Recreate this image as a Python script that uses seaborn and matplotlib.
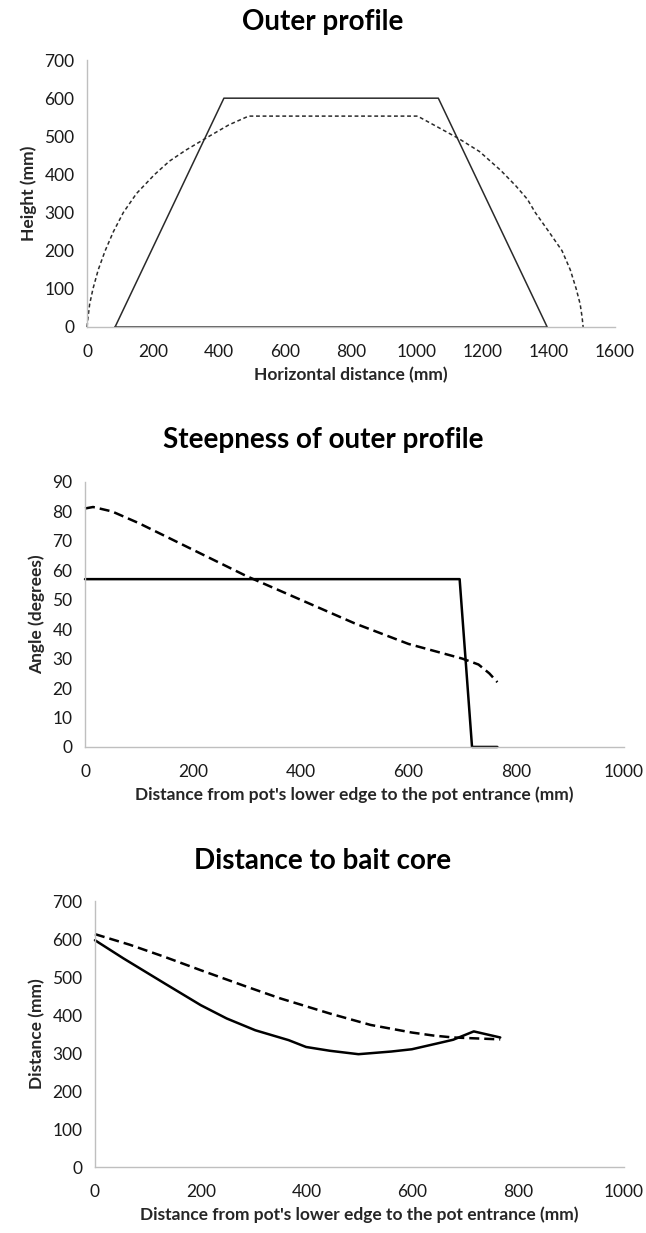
import seaborn as sns
import pandas as pd
import matplotlib.pyplot as plt

# panel 1: outer profile (x, height)
prof_solid_x = [85, 415, 1065, 1395, 85]
prof_solid_y = [0, 600, 600, 0, 0]
prof_dash_x = [0, 3, 8, 18, 34, 55, 80, 110, 150, 205, 250, 300, 370, 430, 490,
               1002, 1070, 1125, 1190, 1255, 1300, 1335, 1359, 1400, 1440, 1465, 1483, 1495, 1501, 1504]
prof_dash_y = [0, 25, 60, 100, 150, 200, 250, 300, 350, 400, 435, 464, 500, 530, 553,
               553, 521, 495, 460, 410, 370, 335, 300, 250, 200, 150, 100, 60, 25, 0]

# panel 2: steepness (distance, angle)
steep_solid_x = [0, 695, 718, 765]
steep_solid_y = [57, 57, 0, 0]
steep_dash_x = [0, 15, 50, 100, 200, 300, 400, 500, 600, 650, 700, 730, 750, 765]
steep_dash_y = [81, 81.5, 80, 76, 67, 58, 50, 42, 35, 32.5, 30, 28, 25, 22]

# panel 3: distance to bait core
bait_solid_x = [0, 54, 132, 200, 249, 303, 366, 399, 444, 498, 560, 599, 646, 677, 716, 766]
bait_solid_y = [597, 549, 483, 426, 391, 360, 334, 316, 306, 297, 304, 310, 325, 335, 357, 341]
bait_dash_x = [0, 66, 132, 200, 288, 350, 444, 521, 599, 640, 677, 766]
bait_dash_y = [613, 585, 553, 518, 474, 444, 404, 374, 354, 346, 341, 336]

sns.set_style("white")
plt.rcParams['font.family'] = ['Lato', 'DejaVu Sans']

fig = plt.figure(figsize=(6.46, 12.33), dpi=100)


def make_df(sx, sy, dx, dy):
    rows = [[x, y, "solid"] for x, y in zip(sx, sy)]
    rows += [[x, y, "dashed"] for x, y in zip(dx, dy)]
    return pd.DataFrame(rows, columns=["x", "y", "series"])


def draw(rect, df, lw, dash, title, title_y, xlabel, ylabel, xmax, xstep, ymax, ystep, color):
    ax = fig.add_axes(rect)
    sns.lineplot(data=df, x="x", y="y", style="series", dashes={"solid": "", "dashed": dash},
                 sort=False, estimator=None, color=color, linewidth=lw, legend=False, ax=ax)
    for line in ax.lines:
        line.set_clip_on(False)
    ax.set_xlim(0, xmax)
    ax.set_ylim(0, ymax)
    ax.set_xticks(range(0, xmax + 1, xstep))
    ax.set_yticks(range(0, ymax + 1, ystep))
    fig.text(0.5, 1 - title_y / 1233, title, fontsize=20, fontweight="bold",
             ha="center", va="center", color="black")
    ax.set_xlabel(xlabel, fontsize=12.5, fontweight="bold", labelpad=5)
    ax.set_ylabel(ylabel, fontsize=12.5, fontweight="bold", labelpad=5)
    for s in ["top", "right"]:
        ax.spines[s].set_visible(False)
    for s in ["left", "bottom"]:
        ax.spines[s].set_color("#bfbfbf")
        ax.spines[s].set_linewidth(1)
    ax.tick_params(axis="both", which="major", direction="out", length=5, width=1,
                   color="#bfbfbf", labelsize=12.5, labelcolor="#1a1a1a", pad=4)
    ax.tick_params(axis="x", pad=7)
    return ax


draw([0.1347, 0.7348, 0.817, 0.2165],
     make_df(prof_solid_x, prof_solid_y, prof_dash_x, prof_dash_y),
     1.1, (2.5, 1.8), "Outer profile", 22, "Horizontal distance (mm)", "Height (mm)",
     1600, 200, 700, 100, "#2a2a2a")

draw([0.1316, 0.3942, 0.8344, 0.2149],
     make_df(steep_solid_x, steep_solid_y, steep_dash_x, steep_dash_y),
     1.8, (4, 2), "Steepness of outer profile", 440,
     "Distance from pot's lower edge to the pot entrance (mm)", "Angle (degrees)",
     1000, 200, 90, 10, "black")

draw([0.147, 0.0535, 0.819, 0.2157],
     make_df(bait_solid_x, bait_solid_y, bait_dash_x, bait_dash_y),
     1.8, (4, 2), "Distance to bait core", 861,
     "Distance from pot's lower edge to the pot entrance (mm)", "Distance (mm)",
     1000, 200, 700, 100, "black")

fig.savefig("out.png", dpi=100)
